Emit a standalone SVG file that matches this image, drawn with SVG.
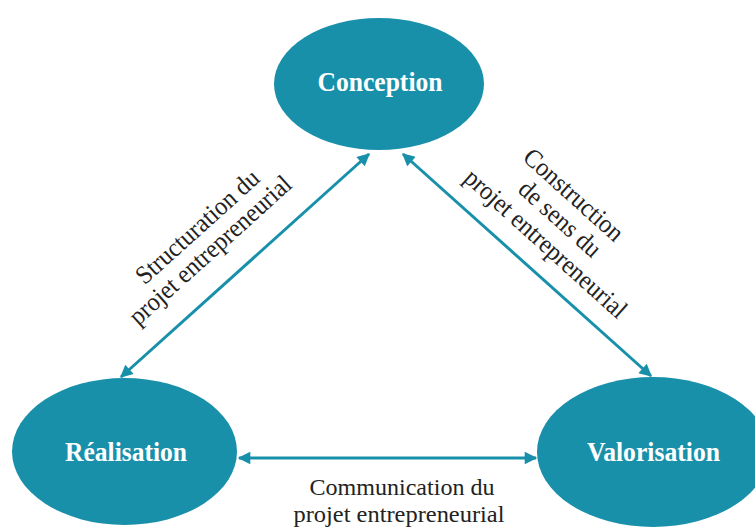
<svg xmlns="http://www.w3.org/2000/svg" width="755" height="527" viewBox="0 0 755 527">
<style>
.node{fill:#1990aa}
.nl{fill:#fff;font-family:"Liberation Serif",serif;font-weight:bold;font-size:28px;text-anchor:middle}
.el{fill:#222;font-family:"Liberation Serif",serif;font-size:26px;text-anchor:middle}
.bl{font-size:24px}
.conn{stroke:#1990aa;stroke-width:3;fill:none}
</style>
<defs>
<marker id="ah" viewBox="0 0 10 10" refX="9" refY="5" markerWidth="4.5" markerHeight="4.2" markerUnits="strokeWidth" orient="auto-start-reverse">
<path d="M0,0 L10,5 L0,10 z" fill="#1990aa"/>
</marker>
</defs>
<rect width="755" height="527" fill="#fff"/>
<g id="connectors">
<line class="conn" x1="121" y1="377" x2="369" y2="154" marker-start="url(#ah)" marker-end="url(#ah)"/>
<line class="conn" x1="403" y1="154" x2="651" y2="376" marker-start="url(#ah)" marker-end="url(#ah)"/>
<line class="conn" x1="239" y1="458" x2="536" y2="458" marker-start="url(#ah)" marker-end="url(#ah)"/>
<text class="el" transform="translate(203,233) rotate(-42)"><tspan x="0" y="0" textLength="157" lengthAdjust="spacingAndGlyphs">Structuration du</tspan><tspan x="-6" y="26" textLength="209" lengthAdjust="spacingAndGlyphs">projet entrepreneurial</tspan></text>
<text class="el" transform="translate(568,201) rotate(42)"><tspan x="0" y="0" textLength="125" lengthAdjust="spacingAndGlyphs">Construction</tspan><tspan x="6" y="27" textLength="101" lengthAdjust="spacingAndGlyphs">de sens du</tspan><tspan x="12" y="55" textLength="209" lengthAdjust="spacingAndGlyphs">projet entrepreneurial</tspan></text>
<text class="el bl"><tspan x="402" y="495" textLength="185" lengthAdjust="spacingAndGlyphs">Communication du</tspan><tspan x="399" y="522" textLength="211" lengthAdjust="spacingAndGlyphs">projet entrepreneurial</tspan></text>
</g>
<g id="conception">
<ellipse class="node" cx="379" cy="84" rx="105" ry="66"/>
<text class="nl" x="380" y="91" textLength="125" lengthAdjust="spacingAndGlyphs">Conception</text>
</g>
<g id="realisation">
<ellipse class="node" cx="124.5" cy="451.5" rx="112.5" ry="73.5"/>
<text class="nl" x="126" y="461" textLength="122" lengthAdjust="spacingAndGlyphs">Réalisation</text>
</g>
<g id="valorisation">
<ellipse class="node" cx="653" cy="452" rx="116" ry="75"/>
<text class="nl" x="653.5" y="461" textLength="133" lengthAdjust="spacingAndGlyphs">Valorisation</text>
</g>
</svg>
